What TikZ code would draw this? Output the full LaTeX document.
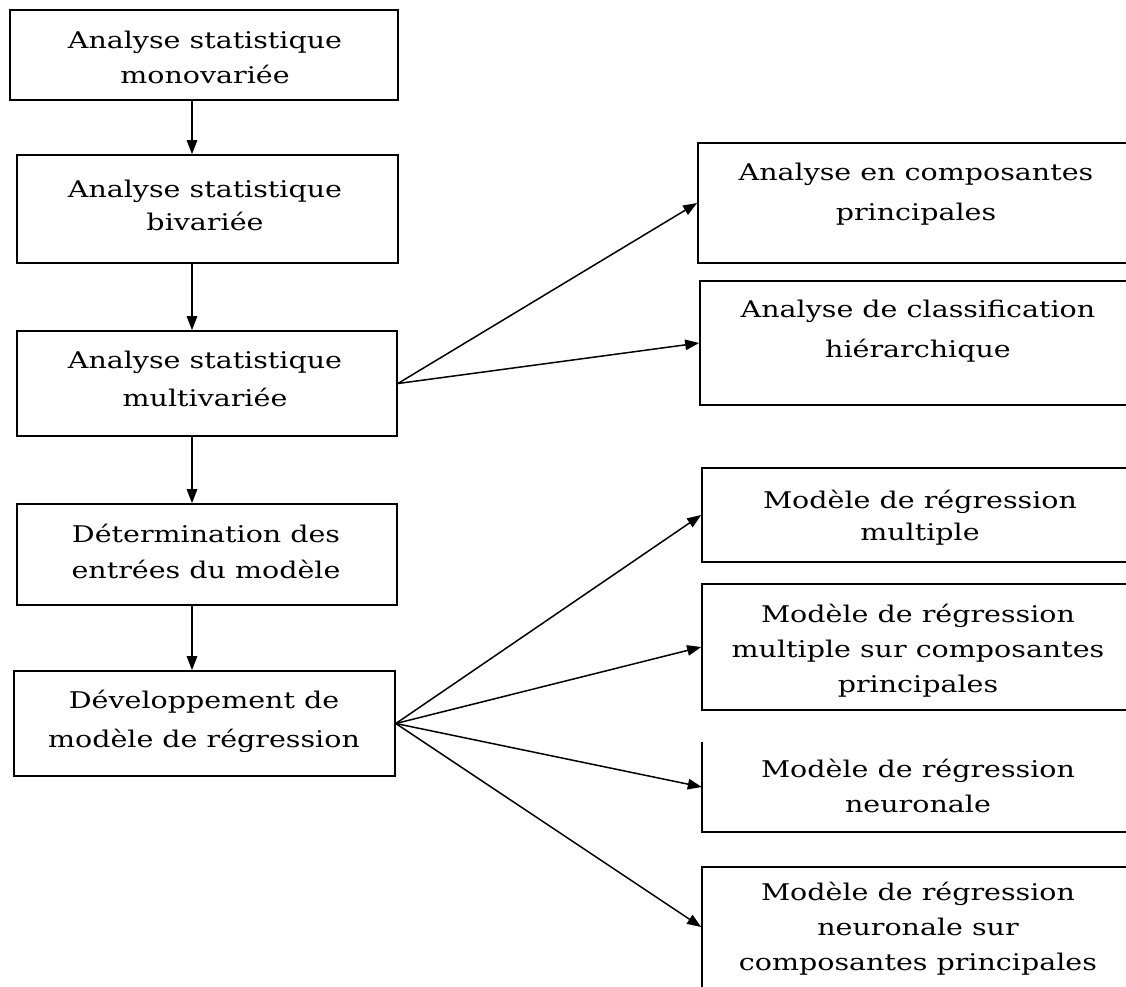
\documentclass[tikz,border=0pt]{standalone}
\usepackage{fontspec}
\setmainfont{DejaVu Serif}[FakeStretch=1.24]
\usetikzlibrary{arrows.meta}
\tikzset{
  box/.style={draw, line width=1.7pt, inner sep=0pt},
  txt/.style={align=center, inner sep=0pt, anchor=base, font=\fontsize{23}{#1}\selectfont},
  txt/.default=36,
  arr/.style={line width=1.5pt, -{Triangle[length=14pt,width=10.5pt]}}
}
\begin{document}
\begin{tikzpicture}[x=1pt,y=-1pt]
\useasboundingbox (0,0) rectangle (1126,986);
\clip (0,0) rectangle (1126,986);
% left column boxes
\node[box, minimum width=388pt, minimum height=90pt] (L1) at (204,55) {};
\node[box, minimum width=381pt, minimum height=108pt] (L2) at (207.5,209) {};
\node[box, minimum width=380pt, minimum height=105pt] (L3) at (207,383.5) {};
\node[box, minimum width=380pt, minimum height=101pt] (L4) at (207,554.5) {};
\node[box, minimum width=381pt, minimum height=105pt] (L5) at (204.5,723.5) {};
% right column boxes
\node[box, minimum width=432pt, minimum height=120pt] (A) at (914,203) {};
\node[box, minimum width=430pt, minimum height=124pt] (B) at (915,343) {};
\node[box, minimum width=428pt, minimum height=94pt] (C) at (916,515) {};
\node[box, minimum width=428pt, minimum height=126pt] (D) at (916,647) {};
\node[inner sep=0pt, minimum width=428pt, minimum height=90pt] (E) at (916,787) {};
\draw[line width=1.7pt] (E.north west) -- (E.south west) -- (E.south east);
\node[box, minimum width=428pt, minimum height=130pt] (F) at (916,932) {};
% texts (anchored at the baseline of the last line)
\node[txt=35] (tL1) at (205,83) {Analyse statistique\\monovariée};
\node[txt=33] (tL2) at (205,230) {Analyse statistique\\bivariée};
\node[txt=38] (tL3) at (205,406) {Analyse statistique\\multivariée};
\node[txt=36] (tL4) at (206,578) {Détermination des\\entrées du modèle};
\node[txt=39] (tL5) at (204,747) {Développement de\\modèle de régression};
\node[txt=40] (tA) at (916,220) {Analyse en composantes\\principales};
\node[txt=40] (tB) at (918,357) {Analyse de classification\\hiérarchique};
\node[txt=32] (tC) at (920,540) {Modèle de régression\\multiple};
\node[txt=35] (tD) at (918,692) {Modèle de régression\\multiple sur composantes\\principales};
\node[txt=35] (tE) at (918,812) {Modèle de régression\\neuronale};
\node[txt=35] (tF) at (918,970) {Modèle de régression\\neuronale sur\\composantes principales};
% vertical arrows
\coordinate (vx) at (192,0);
\draw[arr] (L1.south -| vx) -- (L2.north -| vx);
\draw[arr] (L2.south -| vx) -- (L3.north -| vx);
\draw[arr] (L3.south -| vx) -- (L4.north -| vx);
\draw[arr] (L4.south -| vx) -- (L5.north -| vx);
% fan-out arrows
\draw[arr] (L3.east) -- (A.west);
\draw[arr] (L3.east) -- (B.west);
\draw[arr] (L5.east) -- (C.west);
\draw[arr] (L5.east) -- (D.west);
\draw[arr] (L5.east) -- (E.west);
\draw[arr] (L5.east) -- ([yshift=5pt]F.west);
\end{tikzpicture}
\end{document}
